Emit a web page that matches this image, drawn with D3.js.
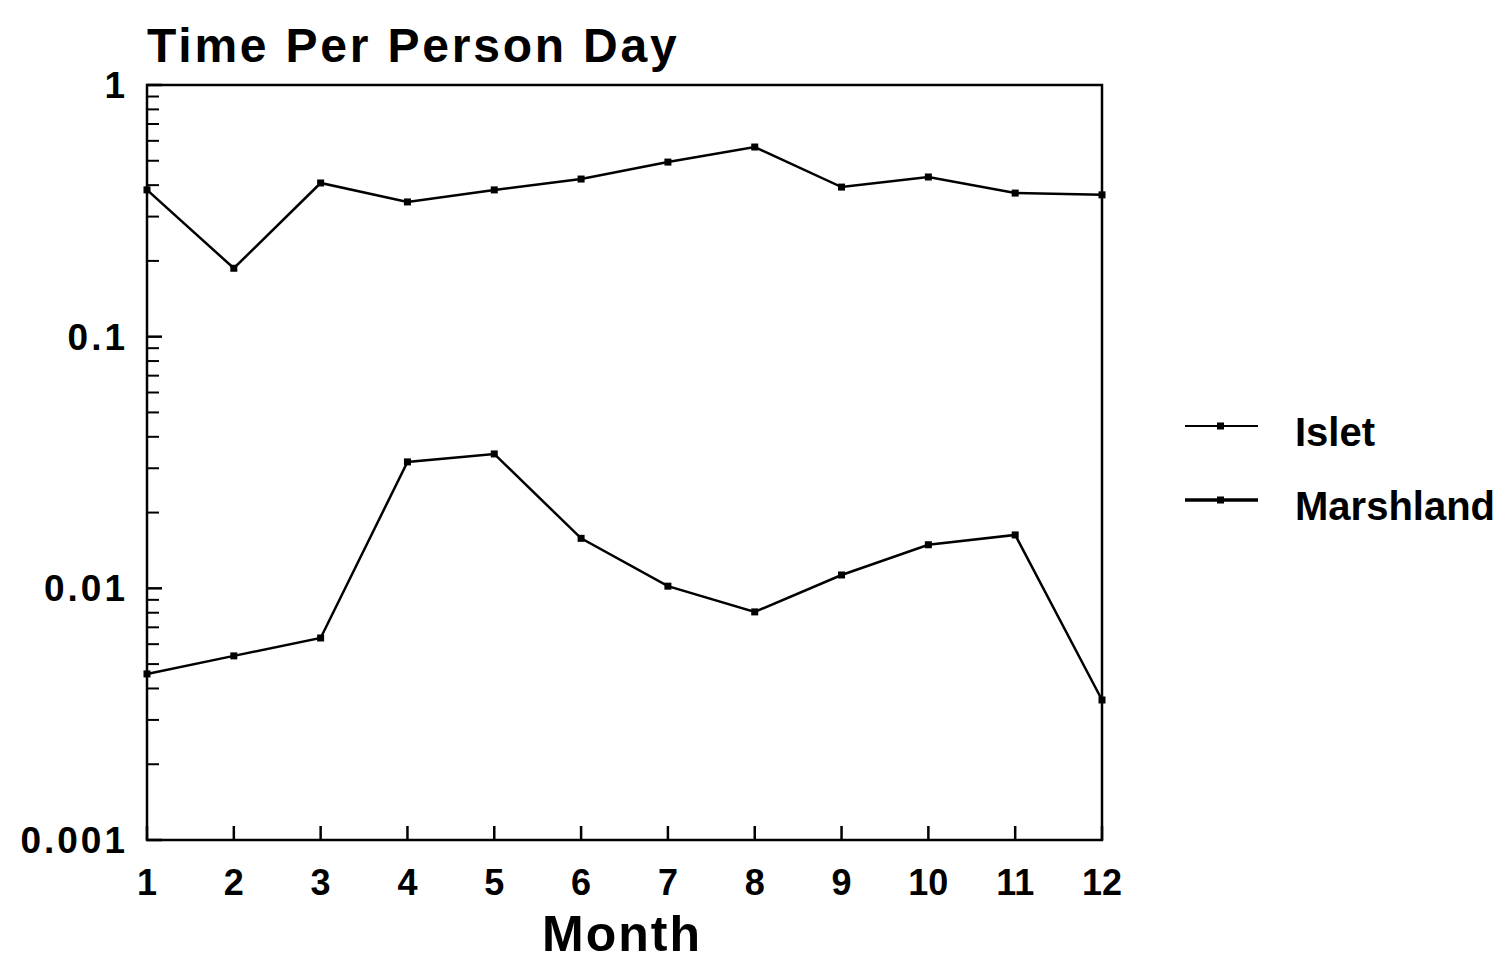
<!DOCTYPE html>
<html>
<head>
<meta charset="UTF-8">
<title>Time Per Person Day</title>
<script src="https://cdn.jsdelivr.net/npm/d3@7"></script>
<style>
  body { margin: 0; background: #fff; }
  text { font-family: "Liberation Sans", Arial, sans-serif; fill: #000; }
</style>
</head>
<body>
<script>
// data
var months = [1, 2, 3, 4, 5, 6, 7, 8, 9, 10, 11, 12];
var islet = [0.383, 0.187, 0.408, 0.343, 0.383, 0.423, 0.494, 0.567, 0.393, 0.431, 0.372, 0.366];
var marshland = [0.00457, 0.00539, 0.00635, 0.0318, 0.0342, 0.0158, 0.0102, 0.00806, 0.0113, 0.0149, 0.0163, 0.0036];
var yTickLabels = ["0.001", "0.01", "0.1", "1"];
var yTickValues = [0.001, 0.01, 0.1, 1];

var W = 1500, H = 964;
var mLeft = 147, mRight = 1102, mTop = 85, mBottom = 840;

var svg = d3.select("body").append("svg")
  .attr("width", W)
  .attr("height", H);

var x = d3.scaleLinear().domain([1, 12]).range([mLeft, mRight]);
var y = d3.scaleLog().domain([0.001, 1]).range([mBottom, mTop]);

// frame
svg.append("rect")
  .attr("x", mLeft).attr("y", mTop)
  .attr("width", mRight - mLeft).attr("height", mBottom - mTop)
  .attr("fill", "none").attr("stroke", "#000").attr("stroke-width", 2.5);

// y ticks (inward)
var minor = y.ticks().filter(function (d) { return yTickValues.indexOf(d) < 0; });
svg.selectAll(".ymin").data(minor).enter().append("line")
  .attr("x1", mLeft).attr("x2", mLeft + 12)
  .attr("y1", function (d) { return y(d); })
  .attr("y2", function (d) { return y(d); })
  .attr("stroke", "#000").attr("stroke-width", 2);
svg.selectAll(".ymaj").data(yTickValues).enter().append("line")
  .attr("x1", mLeft).attr("x2", mLeft + 15)
  .attr("y1", function (d) { return y(d); })
  .attr("y2", function (d) { return y(d); })
  .attr("stroke", "#000").attr("stroke-width", 2.5);
svg.selectAll(".ylab").data(yTickValues).enter().append("text")
  .attr("x", 128)
  .attr("y", function (d) { return y(d) + 13; })
  .attr("text-anchor", "end")
  .attr("font-size", 37).attr("font-weight", "bold")
  .attr("letter-spacing", 3)
  .text(function (d, i) { return yTickLabels[i]; });

// x ticks (inward)
svg.selectAll(".xt").data(months).enter().append("line")
  .attr("x1", function (d) { return x(d); })
  .attr("x2", function (d) { return x(d); })
  .attr("y1", mBottom).attr("y2", mBottom - 14)
  .attr("stroke", "#000").attr("stroke-width", 2.5);
svg.selectAll(".xlab").data(months).enter().append("text")
  .attr("x", function (d) { return x(d); })
  .attr("y", 895)
  .attr("text-anchor", "middle")
  .attr("font-size", 36).attr("font-weight", "bold")
  .text(function (d) { return d; });

// series
var line = d3.line()
  .x(function (d, i) { return x(months[i]); })
  .y(function (d) { return y(d); });

[islet, marshland].forEach(function (s) {
  svg.append("path").datum(s)
    .attr("d", line)
    .attr("fill", "none").attr("stroke", "#000").attr("stroke-width", 2.5);
  svg.selectAll(null).data(s).enter().append("rect")
    .attr("x", function (d, i) { return x(months[i]) - 3.5; })
    .attr("y", function (d) { return y(d) - 3.5; })
    .attr("width", 7).attr("height", 7)
    .attr("fill", "#000");
});

// title and axis title
svg.append("text")
  .attr("x", 147).attr("y", 62)
  .attr("font-size", 48).attr("font-weight", "bold")
  .attr("letter-spacing", 2.8)
  .text("Time Per Person Day");
svg.append("text")
  .attr("x", 622).attr("y", 951)
  .attr("text-anchor", "middle")
  .attr("font-size", 50).attr("font-weight", "bold")
  .attr("letter-spacing", 2)
  .text("Month");

// legend
var legend = [{name: "Islet", y: 426, w: 2}, {name: "Marshland", y: 500, w: 3.5}];
legend.forEach(function (l) {
  svg.append("line")
    .attr("x1", 1185).attr("x2", 1258)
    .attr("y1", l.y).attr("y2", l.y)
    .attr("stroke", "#000").attr("stroke-width", l.w);
  svg.append("rect")
    .attr("x", 1217).attr("y", l.y - 3.5)
    .attr("width", 7).attr("height", 7).attr("fill", "#000");
  svg.append("text")
    .attr("x", 1295).attr("y", l.y + 20)
    .attr("font-size", 40).attr("font-weight", "bold")
    .text(l.name);
});
</script>
</body>
</html>
